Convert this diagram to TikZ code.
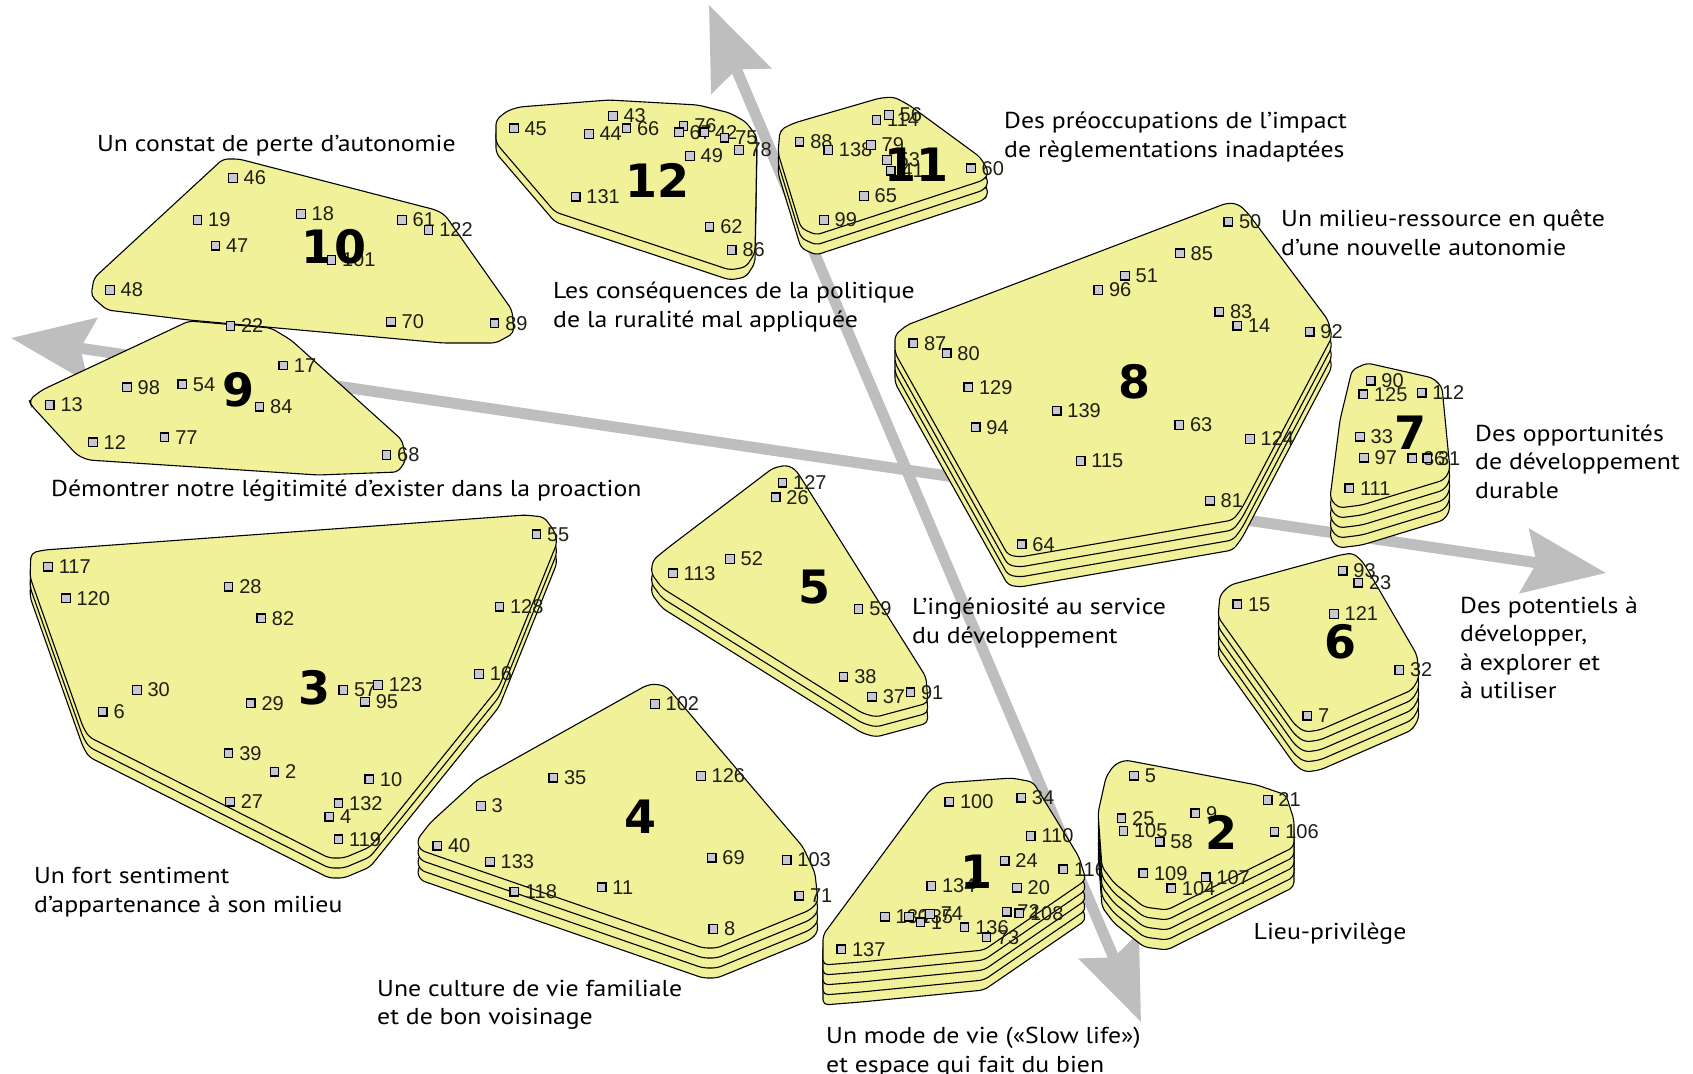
\documentclass[tikz,border=0pt]{standalone}
\usepackage{fontspec}
\setmainfont{PT Sans}[FakeStretch=1.12]
\newfontfamily\numfont{Liberation Sans}
\newfontfamily\bigfont{DejaVu Sans}
\usetikzlibrary{arrows.meta}
\definecolor{clyellow}{RGB}{241,241,153}
\definecolor{axisgray}{RGB}{190,190,190}
\definecolor{sqfill}{RGB}{200,200,210}
\definecolor{numcol}{RGB}{30,30,20}
\tikzset{
  clus/.style={fill=clyellow, draw=black, line width=1.1pt, rounded corners=5pt},
  sq/.style={rectangle, draw=black, fill=sqfill, line width=1.2pt, minimum size=8.5pt, inner sep=0pt, outer sep=0pt},
  num/.style={font=\numfont\fontsize{20}{21}\selectfont, text=numcol, inner sep=0pt, anchor=west},
  big/.style={font=\bigfont\bfseries\fontsize{46}{46}\selectfont, inner sep=0pt},
  title/.style={font=\fontsize{23}{28.5}\selectfont, align=left, inner sep=0pt, anchor=west, text=black},
  axis/.style={draw=axisgray, line width=11pt, {Stealth[length=82pt,width=64pt,inset=12pt]}-{Stealth[length=82pt,width=64pt,inset=12pt]}},
}
\newcommand\clusterstack[2]{%
  \foreach \k in {#1,...,1}{%
    \pgfmathsetmacro\dy{-(\k-1)*10}%
    \begin{scope}[yshift=\dy pt]
      \path[clus] #2 -- cycle;
    \end{scope}
  }%
}
\newcommand\clusterpts[3]{% #1 list, #2 big-number position, #3 number
  \foreach \x/\y/\n in {#1}{\node[num] (n\n) at (\x+10.5,\y) {\n};}
  \node[big] (c#3) at #2 {#3};
  \foreach \x/\y/\n in {#1}{\node[sq] (s\n) at (\x,\y) {};}
}
\begin{document}
\begin{tikzpicture}[x=1pt,y=-1pt]
\useasboundingbox (0,0) rectangle (1693,1073);
\fill[white] (0,0) rectangle (1693,1073);

% axes
\coordinate (hl) at (11,338);
\coordinate (hr) at (1606,573);
\coordinate (vt) at (709,5);
\coordinate (vb) at (1141,1022);
\draw[axis] (hl) -- (hr);
\draw[axis] (vt) -- (vb);

% cluster 10
\clusterstack{1}{(223,159) -- (239,159) -- (436,210) -- (445,215) -- (512,310) -- (514,333) -- (496,343) -- (443,343) -- (189,320) -- (107,310) -- (91,296) -- (94,278)}
\clusterpts{233/178/46, 197.5/220/19, 301/214/18, 402/220/61, 428.6/230/122, 215.4/245.7/47, 331.4/260/101, 110/290/48, 391/321.7/70, 494.6/323.3/89}{(334,247)}{10}

% cluster 9
\clusterstack{1}{(189,321) -- (271,328) -- (291,340) -- (402,440) -- (406,460) -- (398,472) -- (318,475) -- (88,460) -- (77,455) -- (31,405) -- (29,400) -- (42,390)}
\clusterpts{230.4/326/22, 283.2/365.5/17, 127/387.3/98, 182.2/384.3/54, 49.8/405/13, 259.5/406.7/84, 93/442.3/12, 164.6/437.3/77, 386.5/455/68}{(239,390)}{9}

% cluster 12
\clusterstack{2}{(496,120) -- (507,111) -- (519,107) -- (609,100) -- (698,105) -- (730,113) -- (746,122) -- (757,137) -- (755,253) -- (746,267) -- (730,270) -- (555,212) -- (496,143)}
\clusterpts{513.9/128.3/45, 612.9/116/43, 588.9/134/44, 626.4/128.3/66, 683.6/126/76, 678.9/132.3/67, 704.3/132.3/42, 724.6/137.7/75, 738.9/150/78, 690/156/49, 575.7/196.7/131, 709.6/226.7/62, 731.8/250/86}{(657,180)}{12}

% cluster 11
\clusterstack{3}{(780,130) -- (794,123) -- (880,98) -- (894,97) -- (909,105) -- (980,157) -- (989,172) -- (984,180) -- (816,235) -- (801,228) -- (778,153)}
\clusterpts{876.4/120/114, 889/115/56, 799.6/141.7/88, 828.2/150/138, 871/145/79, 887/160/53, 890.7/170.7/41, 971/168.3/60, 864/196/65, 824/220/99}{(916,165)}{11}

% cluster 8
\clusterstack{4}{(895,335) -- (907,325) -- (1227,203) -- (1238,204) -- (1247,212) -- (1328,320) -- (1332,337) -- (1242,508) -- (1233,520) -- (1020,557) -- (1008,555) -- (895,353)}
\clusterpts{1228.3/221.7/50, 1180/253.3/85, 1125/275.7/51, 1098.3/290/96, 1219.3/311.7/83, 1237.3/325.7/14, 1309.7/331.7/92, 913.3/343.3/87, 946.7/353.3/80, 968.3/387.3/129, 1056.7/410.7/139, 975.7/427.3/94, 1179.3/425/63, 1250/439/124, 1080.7/461/115, 1210/500.7/81, 1021.7/544.3/64}{(1134,382)}{8}

% cluster 7
\clusterstack{5}{(1352,370) -- (1367,363) -- (1433,378) -- (1442,387) -- (1450,470) -- (1444,480) -- (1362,505) -- (1338,508) -- (1330,498) -- (1340,420)}
\clusterpts{1370.7/380.7/90, 1363.3/394.3/125, 1421.7/392.7/112, 1360/436.7/33, 1364/457.7/97, 1412.3/458.3/36, 1427.3/458.3/31, 1349.3/488.3/111}{(1410,433)}{7}

% cluster 6
\clusterstack{5}{(1220,595) -- (1230,585) -- (1340,555) -- (1353,553) -- (1363,562) -- (1417,655) -- (1419,678) -- (1412,690) -- (1320,730) -- (1305,732) -- (1295,725) -- (1218,617)}
\clusterpts{1342.7/570.7/93, 1358.3/582.7/23, 1237.3/604.3/15, 1334/614/121, 1399.3/670/32, 1307.3/715.7/7}{(1340,642)}{6}

% cluster 5
\clusterstack{3}{(773,468) -- (787,465) -- (796,470) -- (926,677) -- (928,703) -- (876,717) -- (862,713) -- (662,588) -- (651,573) -- (653,560) -- (669,547)}
\clusterpts{782.5/482.7/127, 775.7/497.3/26, 730/559/52, 672.9/573.3/113, 858.6/609/59, 843.6/676.7/38, 872.1/696.7/37, 910.4/692.3/91}{(814,587)}{5}

% cluster 4
\clusterstack{4}{(647,685) -- (657,684) -- (667,687) -- (803,847) -- (815,873) -- (818,902) -- (810,910) -- (717,948) -- (703,948) -- (420,850) -- (417,840) -- (430,823) -- (477,780)}
\clusterpts{655/704/102, 553.3/777.7/35, 701/776/126, 481/806/3, 437.3/845.7/40, 490/861.7/133, 711.7/857.7/69, 786.7/860/103, 514.3/891.7/118, 601.7/887.3/11, 799.3/895.7/71, 713.3/929/8}{(640,817)}{4}

% cluster 3
\clusterstack{3}{(31,553) -- (44,550) -- (525,515) -- (544,517) -- (555,532) -- (557,543) -- (499,687) -- (370,847) -- (344,858) -- (329,858) -- (89,737) -- (83,727) -- (30,577)}
\clusterpts{536.4/534.3/55, 48.1/566.7/117, 65.9/598.3/120, 228.6/586.7/28, 261.2/618.3/82, 499.4/606.7/128, 479.1/674/16, 136.9/690/30, 102.8/711.7/6, 250.8/703.3/29, 343.3/690/57, 378.1/685/123, 365.1/701.7/95, 228.6/753.3/39, 274.5/771.7/2, 369.2/779.3/10, 230.1/801.7/27, 338.5/803.3/132, 329.3/816.7/4, 338.5/839.3/119}{(314.5,688)}{3}

% cluster 1
\clusterstack{5}{(942,783) -- (1012,778) -- (1033,782) -- (1079,857) -- (1086,880) -- (984,950) -- (861,962) -- (823,965) -- (823,935) -- (930,790)}
\clusterpts{949.3/801.7/100, 1021.2/797.7/34, 1030.8/836/110, 1004.7/860.7/24, 1063.3/869.3/116, 931.3/886/134, 1017/887.7/20, 1006.7/911.7/72, 1019.3/913.3/108, 885/916.7/130, 909/916.7/135, 920.5/922.3/1, 930.1/914/74, 964.6/927.3/136, 986.4/937.3/73, 841.3/949.3/137}{(976,872)}{1}

% cluster 2
\clusterstack{5}{(1114,765) -- (1125,760) -- (1257,785) -- (1286,795) -- (1294,820) -- (1294,847) -- (1167,910) -- (1144,907) -- (1114,883) -- (1102,867) -- (1098,813) -- (1106,777)}
\clusterpts{1134.1/775.7/5, 1267.7/800/21, 1121.5/818.3/25, 1195.3/813.3/9, 1123.4/831/105, 1159.7/841.7/58, 1274.6/831.7/106, 1143.3/873.3/109, 1205.7/877.3/107, 1171.2/888.3/104}{(1221,832)}{2}

% titles
\node[title] (t10) at (97,146) {Un constat de perte d’autonomie};
\node[title] (t12) at (553,307) {Les conséquences de la politique\\de la ruralité mal appliquée};
\node[title] (t11) at (1004,137) {Des préoccupations de l’impact\\de règlementations inadaptées};
\node[title] (t8) at (1281,232.5) {Un milieu-ressource en quête\\d’une nouvelle autonomie};
\node[title] (t7) at (1475,461.5) {Des opportunités\\de développement\\durable};
\node[title] (t6) at (1460,648) {Des potentiels à\\développer,\\à explorer et\\à utiliser};
\node[title] (t5) at (912,623) {L’ingéniosité au service\\du développement};
\node[title] (t9) at (51,491) {Démontrer notre légitimité d’exister dans la proaction};
\node[title] (t3) at (34,892) {Un fort sentiment\\d’appartenance à son milieu};
\node[title] (t4) at (377,1005) {Une culture de vie familiale\\et de bon voisinage};
\node[title] (t1) at (826,1052) {Un mode de vie («Slow life»)\\et espace qui fait du bien};
\node[title] (t2) at (1253.5,934) {Lieu-privilège};
\end{tikzpicture}
\end{document}
